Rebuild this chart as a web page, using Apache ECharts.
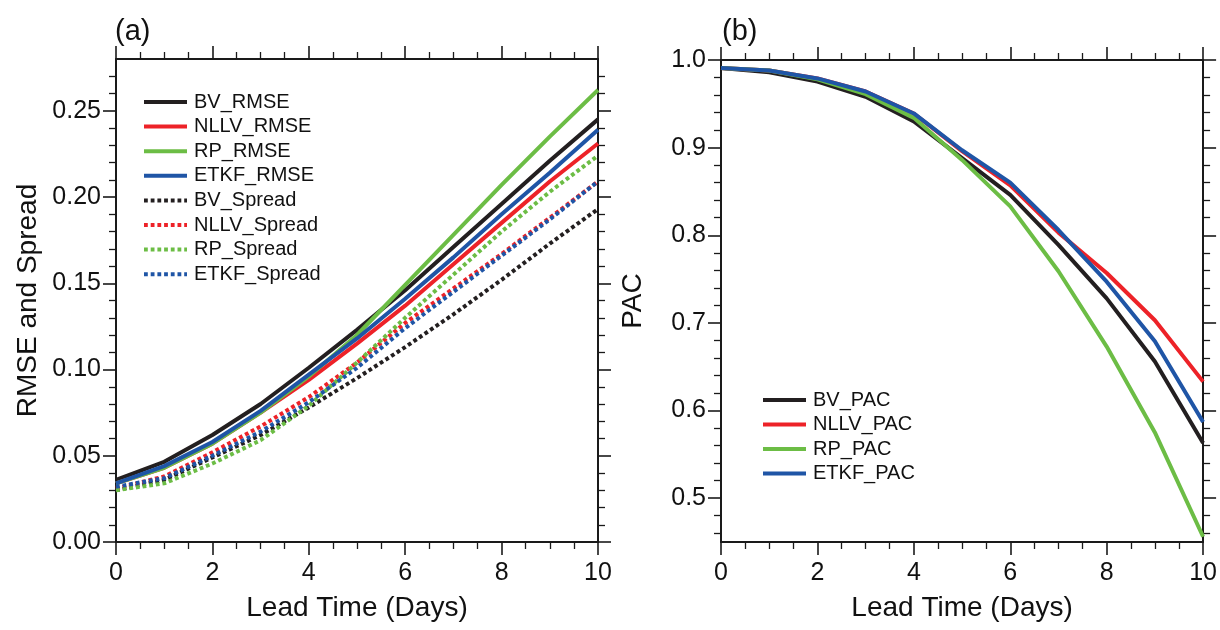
<!DOCTYPE html>
<html>
<head>
<meta charset="utf-8">
<script src="https://cdn.jsdelivr.net/npm/echarts@6/dist/echarts.min.js"></script>
<style>
html,body{margin:0;padding:0;background:#fff;}
#chart{width:1220px;height:630px;}
</style>
</head>
<body>
<div id="chart"></div>
<script>
// ---------- data ----------
const days = [0, 1, 2, 3, 4, 5, 6, 7, 8, 9, 10];

const bvRmse    = [0.036, 0.0465, 0.062, 0.080, 0.101, 0.123, 0.146, 0.171, 0.196, 0.221, 0.245];
const nllvRmse  = [0.034, 0.043, 0.057, 0.075, 0.094, 0.115, 0.137, 0.161, 0.185, 0.209, 0.231];
const rpRmse    = [0.034, 0.043, 0.057, 0.075, 0.096, 0.120, 0.149, 0.178, 0.207, 0.235, 0.262];
const etkfRmse  = [0.034, 0.044, 0.058, 0.076, 0.097, 0.118, 0.141, 0.165, 0.190, 0.214, 0.239];
const bvSpread   = [0.030, 0.036, 0.049, 0.062, 0.078, 0.095, 0.113, 0.132, 0.152, 0.173, 0.193];
const nllvSpread = [0.031, 0.038, 0.052, 0.067, 0.084, 0.104, 0.127, 0.147, 0.167, 0.188, 0.209];
const rpSpread   = [0.030, 0.034, 0.0455, 0.059, 0.079, 0.104, 0.130, 0.155, 0.180, 0.203, 0.224];
const etkfSpread = [0.032, 0.037, 0.050, 0.064, 0.081, 0.101, 0.124, 0.145, 0.166, 0.187, 0.209];

const bvPac   = [0.991, 0.986, 0.9755, 0.958, 0.930, 0.888, 0.846, 0.789, 0.728, 0.656, 0.563];
const nllvPac = [0.991, 0.988, 0.979, 0.964, 0.939, 0.896, 0.857, 0.803, 0.757, 0.703, 0.633];
const rpPac   = [0.991, 0.988, 0.978, 0.961, 0.934, 0.886, 0.833, 0.759, 0.673, 0.575, 0.456];
const etkfPac = [0.991, 0.988, 0.979, 0.964, 0.939, 0.897, 0.860, 0.806, 0.747, 0.679, 0.587];

const leftYTicks  = [0, 0.05, 0.10, 0.15, 0.20, 0.25];
const rightYTicks = [0.5, 0.6, 0.7, 0.8, 0.9, 1.0];
const leftNames  = ['BV_RMSE', 'NLLV_RMSE', 'RP_RMSE', 'ETKF_RMSE', 'BV_Spread', 'NLLV_Spread', 'RP_Spread', 'ETKF_Spread'];
const rightNames = ['BV_PAC', 'NLLV_PAC', 'RP_PAC', 'ETKF_PAC'];

// ---------- styling ----------
const FONT = "'Liberation Sans', Arial, Helvetica, sans-serif";
const C = { black: '#231f20', red: '#ed2228', green: '#6cbd45', blue: '#1f55a6' };
const AX = '#1a1a1a';

const leftMinor = [];
for (let i = 1; i <= 27; i++) if (i % 5 !== 0) leftMinor.push(i / 100);
const rightMinor = [];
for (let i = 46; i <= 98; i += 2) if (i % 10 !== 0) rightMinor.push(i / 100);

function pairs(vals) { return days.map((d, i) => [d, vals[i]]); }

function xAx(grid, pos, labels) {
  return {
    type: 'value', gridIndex: grid, position: pos, min: 0, max: 10, interval: 2,
    axisLine: { show: true, onZero: false, lineStyle: { color: AX, width: 2 } },
    axisTick: { show: true, inside: false, length: 13, lineStyle: { color: AX, width: 1.6 } },
    minorTick: { show: true, splitNumber: 4, length: 7, lineStyle: { color: AX, width: 1.3 } },
    axisLabel: { show: labels, fontSize: 25, color: '#111', fontFamily: FONT, margin: 19 },
    splitLine: { show: false }, minorSplitLine: { show: false },
    name: labels ? 'Lead Time (Days)' : '', nameLocation: 'middle', nameGap: 52,
    nameTextStyle: { fontSize: 28, color: '#111', fontFamily: FONT }
  };
}
function yAx(grid, pos, min, max, ticks, len, labels, showLine, name, digits) {
  return {
    type: 'value', gridIndex: grid, position: pos, min: min, max: max,
    axisLine: { show: showLine, onZero: false, lineStyle: { color: AX, width: 2 } },
    axisTick: { show: true, inside: false, length: len, customValues: ticks,
                lineStyle: { color: AX, width: len > 10 ? 1.6 : 1.3 } },
    axisLabel: { show: labels, customValues: ticks, fontSize: 25, color: '#111', fontFamily: FONT, margin: 15,
                 formatter: v => Number(v).toFixed(digits) },
    splitLine: { show: false },
    name: name || '', nameLocation: 'middle', nameGap: 74, nameRotate: 90,
    nameTextStyle: { fontSize: 28, color: '#111', fontFamily: FONT }
  };
}

function solid(name, vals, color, xi, yi) {
  return { name, type: 'line', xAxisIndex: xi, yAxisIndex: yi, data: pairs(vals), symbol: 'none',
           lineStyle: { color, width: 4 }, itemStyle: { color }, animation: false, z: 3 };
}
function dotted(name, vals, color, xi, yi) {
  return { name, type: 'line', xAxisIndex: xi, yAxisIndex: yi, data: pairs(vals), symbol: 'none',
           lineStyle: { color, width: 4, type: [3.8, 2.9], cap: 'butt' }, itemStyle: { color }, animation: false, z: 4 };
}

const legendText = { fontSize: 20, lineHeight: 20, color: '#111', fontFamily: FONT, padding: [0, 0, 0, 2] };

const option = {
  backgroundColor: '#fff',
  animation: false,
  textStyle: { fontFamily: FONT },
  title: [
    { text: '(a)', left: 110, top: 12, textStyle: { fontSize: 29, fontWeight: 'normal', color: '#111', fontFamily: FONT } },
    { text: '(b)', left: 717, top: 12, textStyle: { fontSize: 29, fontWeight: 'normal', color: '#111', fontFamily: FONT } }
  ],
  grid: [
    { left: 116, top: 59, width: 482, height: 483 },
    { left: 721, top: 60, width: 484, height: 482 }
  ],
  legend: [
    { data: leftNames, orient: 'vertical', left: 137, top: 87, itemWidth: 43, itemHeight: 12, itemGap: 4.6,
      itemStyle: { opacity: 0 }, lineStyle: { width: 4 }, textStyle: legendText },
    { data: rightNames, orient: 'vertical', left: 756, top: 385, itemWidth: 43, itemHeight: 12, itemGap: 4.5,
      itemStyle: { opacity: 0 }, lineStyle: { width: 4 }, textStyle: legendText }
  ],
  xAxis: [
    xAx(0, 'bottom', true), xAx(0, 'top', false),
    xAx(1, 'bottom', true), xAx(1, 'top', false)
  ],
  yAxis: [
    yAx(0, 'left', 0, 0.28, leftYTicks, 13, true, true, 'RMSE and Spread', 2),
    yAx(0, 'left', 0, 0.28, leftMinor, 7, false, false, '', 2),
    yAx(0, 'right', 0, 0.28, leftYTicks, 13, false, true, '', 2),
    yAx(0, 'right', 0, 0.28, leftMinor, 7, false, false, '', 2),
    yAx(1, 'left', 0.45, 1.0, rightYTicks, 13, true, true, 'PAC', 1),
    yAx(1, 'left', 0.45, 1.0, rightMinor, 7, false, false, '', 1),
    yAx(1, 'right', 0.45, 1.0, rightYTicks, 13, false, true, '', 1),
    yAx(1, 'right', 0.45, 1.0, rightMinor, 7, false, false, '', 1)
  ],
  series: [
    solid('BV_RMSE', bvRmse, C.black, 0, 0),
    solid('NLLV_RMSE', nllvRmse, C.red, 0, 0),
    solid('RP_RMSE', rpRmse, C.green, 0, 0),
    solid('ETKF_RMSE', etkfRmse, C.blue, 0, 0),
    dotted('BV_Spread', bvSpread, C.black, 0, 0),
    dotted('NLLV_Spread', nllvSpread, C.red, 0, 0),
    dotted('RP_Spread', rpSpread, C.green, 0, 0),
    dotted('ETKF_Spread', etkfSpread, C.blue, 0, 0),
    solid('BV_PAC', bvPac, C.black, 2, 4),
    solid('NLLV_PAC', nllvPac, C.red, 2, 4),
    solid('RP_PAC', rpPac, C.green, 2, 4),
    solid('ETKF_PAC', etkfPac, C.blue, 2, 4)
  ]
};

const chart = echarts.init(document.getElementById('chart'), null, { renderer: 'canvas' });
chart.setOption(option);
</script>
</body>
</html>
